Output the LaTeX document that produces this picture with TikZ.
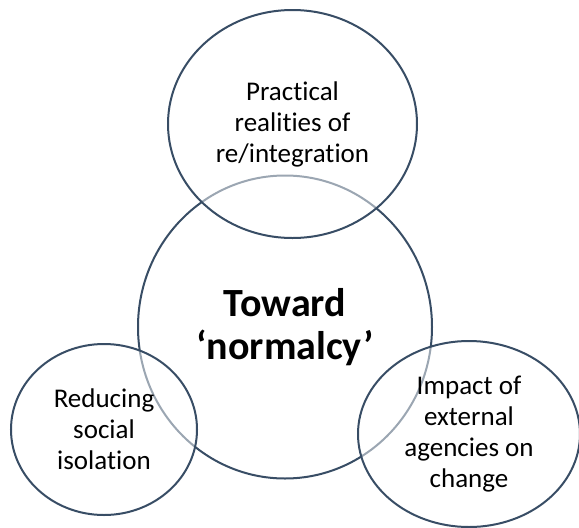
\documentclass[tikz,border=0pt]{standalone}
\usepackage{fontspec}
\setmainfont{Carlito}[Ligatures=NoCommon]
\usepackage{tikz}
\usetikzlibrary{shapes.geometric}
\definecolor{slateline}{RGB}{56,77,101}
\tikzset{
  bubble/.style={draw=slateline, line width=2pt, ellipse, inner sep=0, align=center,
                 fill=white, fill opacity=0.5, text opacity=1},
  small/.style={font=\fontsize{27}{31}\selectfont},
  big/.style={font=\fontsize{40}{43}\selectfont\bfseries}
}

\begin{document}
\begin{tikzpicture}[x=1pt, y=-1pt]
  \useasboundingbox (0,0) rectangle (579,528);

  % Central circle
  \node[bubble, big, minimum width=294pt, minimum height=303pt] (normalcy) at (285,327) {Toward\\ ‘normalcy’};

  % Top ellipse
  \node[bubble, small, minimum width=249pt, minimum height=228pt] (realities) at (292.5,124) {Practical\\ realities of\\ re/integration};

  % Left ellipse
  \node[bubble, small, minimum width=186pt, minimum height=171pt] (isolation) at (104,429.5) {Reducing\\ social\\ isolation};

  % Right ellipse
  \node[bubble, small, minimum width=222pt, minimum height=186pt] (agencies) at (469,434) {Impact of\\ external\\ agencies on\\ change};
\end{tikzpicture}
\end{document}
